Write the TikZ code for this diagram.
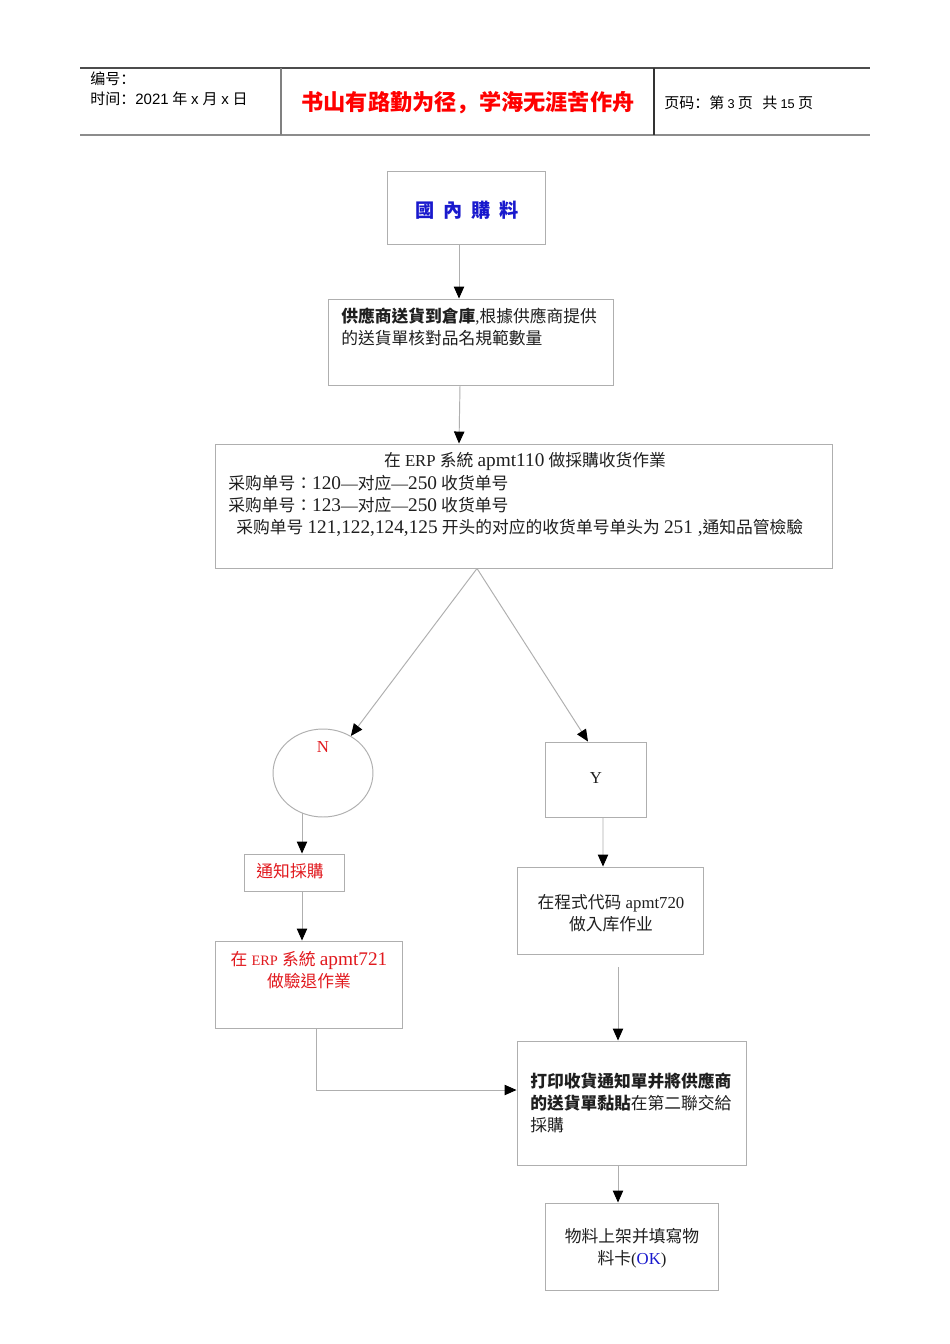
\documentclass[tikz,border=0pt]{standalone}
\usepackage{fontspec}
\usetikzlibrary{shapes.geometric,fit,calc,arrows.meta}
\setmainfont{Liberation Serif}
\newfontfamily\cjk{Noto Sans CJK TC}
\newfontfamily\cjksc{Noto Sans CJK SC}
\newfontfamily\hdsans{Liberation Sans}
\newfontfamily\latw{Liberation Serif}[Scale=1.15]
\definecolor{linegray}{RGB}{175,175,175}
\definecolor{redtxt}{RGB}{225,25,30}
\definecolor{bluetxt}{RGB}{25,25,205}
\newcommand\zh[1]{{\cjk #1}}
\newcommand\nm[1]{{\latw #1}}
\tikzset{
  box/.style={draw=linegray, line width=0.6pt, inner sep=0pt},
  txt/.style={inner sep=0pt, text=black!88, font=\fontsize{10.5}{13.8}\selectfont},
  conn/.style={draw=linegray, line width=0.6pt, -{Triangle[length=7.5pt,width=6.5pt,color=black]}},
  hd/.style={inner sep=0pt, anchor=west, font=\fontsize{9.4}{12}\selectfont}
}

\begin{document}
\begin{tikzpicture}[x=0.6263pt,y=-0.6263pt]
      \path[fill=white] (0,0) rectangle (950,1344);
      \useasboundingbox (0,0) rectangle (950,1344);
      \draw[line width=1pt, black!70] (80,68) -- (870,68);
      \draw[line width=1.2pt, black!45] (80,135) -- (870,135);
      \draw[line width=0.8pt, black!50] (281,68) -- (281,135);
      \draw[line width=0.8pt, black!80] (654,68) -- (654,135);
      \node[hd] (hdNo) at (90,79) {{\cjksc 编号：}};
      \node[hd] (hdTime) at (90,99) {{\cjksc 时间：}{\hdsans 2021} {\cjksc 年} {\hdsans x} {\cjksc 月} {\hdsans x} {\cjksc 日}};
      \node[inner sep=0pt, text=red, font=\fontsize{13.9}{16}\selectfont\bfseries] (hdTitle) at (468,103) {{\cjksc 书山有路勤为径，学海无涯苦作舟}};
      \node[hd] (hdPage) at (664,103) {{\cjksc 页码：第}\hspace{2pt}{\hdsans\fontsize{8}{9}\selectfont 3}\hspace{2pt}{\cjksc 页}\hspace{6pt}{\cjksc 共}\hspace{2pt}{\hdsans\fontsize{8}{9}\selectfont 15}\hspace{2pt}{\cjksc 页}};

      \node[box, fit={(387,171) (545,244)}] (buy) {};
      \node[box, fit={(328,299) (613,385)}] (deliver) {};
      \node[box, fit={(215,444) (832,568)}] (recv) {};
      \node[box, ellipse, minimum width=62.6pt, minimum height=55.1pt] (no) at (323,773) {};
      \node[box, fit={(545,742) (646,817)}] (yes) {};
      \node[box, fit={(244,854) (344,891)}] (notice) {};
      \node[box, fit={(215,941) (402,1028)}] (rej) {};
      \node[box, fit={(517,867) (703,954)}] (prog) {};
      \node[box, fit={(517,1041) (746,1165)}] (print) {};
      \node[box, fit={(545,1203) (718,1290)}] (ok) {};

      \node[txt, text=bluetxt, font=\fontsize{12}{14}\selectfont\bfseries] (buyT) at (467,210) {\zh{國\hspace{5.5pt}內\hspace{5.5pt}購\hspace{5.5pt}料}};
      \node[txt, anchor=north west, align=left] (deliverT) at (341,307.5) {\zh{\bfseries 供應商送貨到倉庫},\zh{根據供應商提供}\\\zh{的送貨單核對品名規範數量}};
      \node[txt] (recvT) at (525,461) {\zh{在} ERP \zh{系統} \nm{apmt110} \zh{做採購收货作業}};
      \node[txt, anchor=north west, align=left] (recvL) at (228,474.5) {\zh{采购单号：}\nm{120}—\zh{对应}—\nm{250} \zh{收货单号}\\\zh{采购单号：}\nm{123}—\zh{对应}—\nm{250} \zh{收货单号}\\\hspace*{5pt}\zh{采购单号} \nm{121,122,124,125} \zh{开头的对应的收货单号单头为} \nm{251 ,}\zh{通知品管檢驗}};
      \node[txt, text=redtxt] (noT) at (323,747) {N};
      \node[txt] (yesT) at (596,778) {Y};
      \node[txt, text=redtxt] (noticeT) at (290,871) {\zh{通知採購}};
      \node[txt, text=redtxt, align=center] (rejT) at (309,970) {\zh{在} {\fontsize{9}{13.8}\selectfont ERP} \zh{系統} \nm{apmt721}\\\zh{做驗退作業}};
      \node[txt, align=center] (progT) at (611,913) {\zh{在程式代码} apmt720\\\zh{做入库作业}};
      \node[txt, anchor=north west, align=left] (printT) at (530,1072.5) {\zh{\bfseries 打印收貨通知單并將供應商}\\\zh{\bfseries 的送貨單黏貼}\zh{在第二聯交給}\\\zh{採購}};
      \node[txt, align=center] (okT) at (632,1248.5) {\zh{物料上架并填寫物}\\\zh{料卡}(\textcolor{bluetxt}{OK})};

      \draw[conn] ($(buy.south)+(-7,0)$) -- ($(deliver.north)+(-11.5,0)$);
      \draw[conn] ($(deliver.south)+(-10.5,0)$) -- ($(recv.north)+(-64.5,0)$);
      \draw[conn] ($(recv.south)+(-46.5,0)$) -- (no);
      \draw[conn] ($(recv.south)+(-46.5,0)$) -- ($(yes.north)+(-7.5,0)$);
      \draw[conn] ($(no.south)+(-21,-4)$) -- ($(notice.north)+(8,0)$);
      \draw[conn] ($(notice.south)+(8,0)$) -- ($(rej.north)+(-6.5,0)$);
      \draw[conn] ($(yes.south)+(7.5,0)$) -- ($(prog.north)+(-7,0)$);
      \draw[conn] ($(prog.south)+(8,13)$) -- ($(print.north)+(-13.5,0)$);
      \draw[conn] ($(rej.south)+(7.5,0)$) |- ($(print.west)+(0,-13)$);
      \draw[conn] ($(print.south)+(-13.5,0)$) -- ($(ok.north)+(-13.5,0)$);
\end{tikzpicture}
\end{document}
